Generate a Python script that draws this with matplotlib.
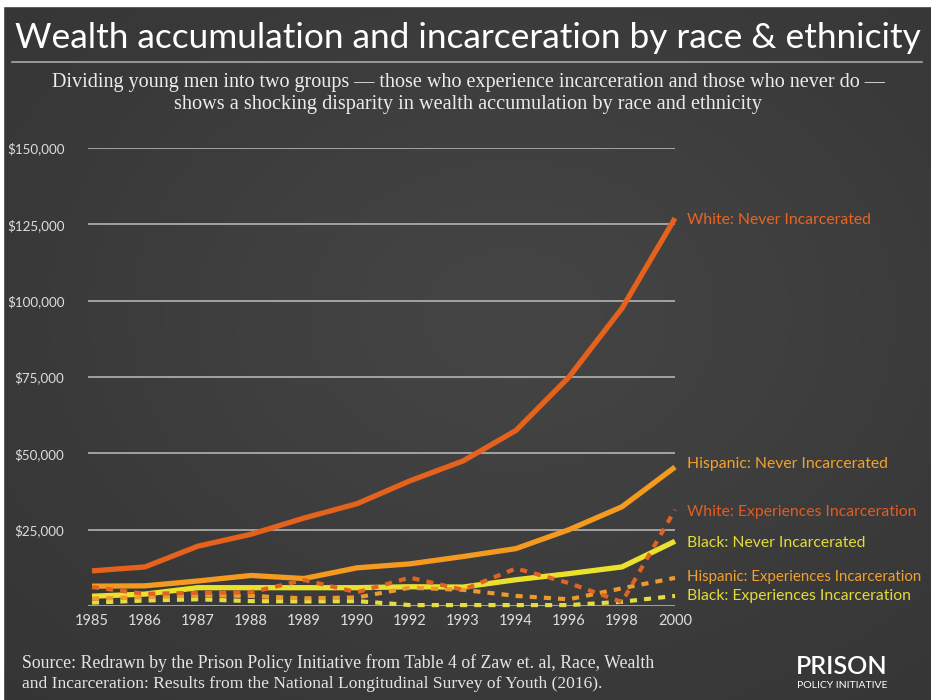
import numpy as np
import matplotlib
matplotlib.use("Agg")
import matplotlib.pyplot as plt
from matplotlib.ticker import FuncFormatter

# data (values in dollars)
years = ['1985', '1986', '1987', '1988', '1989', '1990',
         '1992', '1993', '1994', '1996', '1998', '2000']
white_never = [11500, 12800, 19600, 23500, 28800, 33500,
               41000, 47500, 57500, 75000, 97500, 127000]
hisp_never = [6500, 6600, 8200, 10000, 9000, 12500,
              13800, 16200, 18800, 25000, 32500, 45500]
black_never = [3200, 3900, 6000, 6000, 6000, 6000,
               6300, 6200, 8600, 10600, 12800, 21200]
white_exp = [6200, 4000, 4300, 4500, 8500, 4500,
             9300, 5300, 12300, 7500, 1300, 31500]
hisp_exp = [2400, 2900, 3500, 3300, 2500, 2800,
            6000, 5300, 3300, 2200, 5800, 9200]
black_exp = [1100, 1800, 2200, 1600, 1500, 1600,
             300, 300, 300, 300, 1400, 3300]
yticks = [25000, 50000, 75000, 100000, 125000, 150000]

label_white_never = "White: Never Incarcerated"
label_hisp_never = "Hispanic: Never Incarcerated"
label_white_exp = "White: Experiences Incarceration"
label_black_never = "Black: Never Incarcerated"
label_hisp_exp = "Hispanic: Experiences Incarceration"
label_black_exp = "Black: Experiences Incarceration"

BG = '#3d3d3d'
WHITE_C = '#e4621c'
HISP_C = '#f49a1e'
BLACK_C = '#ebe12c'
SANS = ['Lato', 'DejaVu Sans']
SERIF = ['Liberation Serif', 'DejaVu Serif']

W, H = 931, 700
fig = plt.figure(figsize=(W / 100, H / 100), dpi=100, facecolor=BG)

# subtle vignette background (darker towards the edges)
bg_ax = fig.add_axes([0, 0, 1, 1], zorder=-10)
yy, xx = np.mgrid[0:H, 0:W]
d2 = ((xx - W * 0.55) / W) ** 2 + ((yy - H * 0.45) / H) ** 2
shade = 0.205 + 0.06 * np.exp(-d2 / 0.25)
bg_ax.imshow(np.dstack([shade] * 3), extent=[0, W, H, 0], aspect='auto',
             interpolation='bilinear')
# thin white border strip at the top and left
bg_ax.axhspan(0, 6, color='white')
bg_ax.axvspan(0, 3, color='white')
bg_ax.set_xlim(0, W)
bg_ax.set_ylim(H, 0)
bg_ax.axis('off')
# line under the title
bg_ax.plot([12, 922], [62, 62], color='#a8a8a8', lw=1.2)

renderer = fig.canvas.get_renderer()


def fit_text(x, y, s, target_w, size, **kw):
    # place text and scale its size so it spans target_w pixels
    t = fig.text(x / W, 1 - y / H, s, fontsize=size, **kw)
    w = t.get_window_extent(renderer).width
    t.set_fontsize(size * target_w / w)
    return t


fit_text(468, 38, "Wealth accumulation and incarceration by race & ethnicity",
         905, 24, color='white', ha='center', va='center', family=SANS)
fit_text(468, 82, "Dividing young men into two groups \u2014 those who experience "
         "incarceration and those who never do \u2014", 836, 14,
         color='#ececec', ha='center', va='center', family=SERIF)
fit_text(468, 104, "shows a shocking disparity in wealth accumulation by race and ethnicity",
         592, 14, color='#ececec', ha='center', va='center', family=SERIF)
fit_text(22, 663, "Source: Redrawn by the Prison Policy Initiative from Table 4 of Zaw et. al, Race, Wealth",
         630, 11, color='#e4e4e4', ha='left', va='center', family=SERIF)
fit_text(22, 684, "and Incarceration: Results from the National Longitudinal Survey of Youth (2016).",
         580, 11, color='#e4e4e4', ha='left', va='center', family=SERIF)
fit_text(842, 666, "PRISON", 92, 17, color='white', ha='center', va='center',
         family=SANS, fontweight='semibold')
fit_text(842, 686, "POLICY INITIATIVE", 90, 6, color='white', ha='center',
         va='center', family=SANS)

# main axes: x 1985 at px 92, 2000 at px 675; y 0 at px 606, 150k at px 148
x0, x1 = 92, 675
step = (x1 - x0) / (len(years) - 1)
left_px = 88
ax = fig.add_axes([left_px / W, 1 - 606 / H, (x1 - left_px) / W, (606 - 148) / H])
ax.set_facecolor('none')
ax.set_xlim(-(x0 - left_px) / step, len(years) - 1)
ax.set_ylim(0, 150000)
x = np.arange(len(years))

for yv in [0] + yticks:
    ax.axhline(yv, color='#bdbdbd', lw=1.1, zorder=1)

solid_kw = dict(lw=3.8, solid_capstyle='butt', solid_joinstyle='round', clip_on=False, zorder=3)
ax.plot(x, white_never, color=WHITE_C, **solid_kw)
ax.plot(x, hisp_never, color=HISP_C, **solid_kw)
ax.plot(x, black_never, color=BLACK_C, **solid_kw)

dash_kw = dict(lw=3.0, dashes=(1.7, 1.7), dash_capstyle='butt', clip_on=False, zorder=4)
ax.plot(x, black_exp, color='#e4dc45', **dash_kw)
ax.plot(x, hisp_exp, color='#ec9a2e', **dash_kw)
ax.plot(x, white_exp, color='#de6424', **dash_kw)

ax.set_yticks(yticks)
ax.yaxis.set_major_formatter(FuncFormatter(lambda v, p: f"${v:,.0f}"))
ax.set_xticks(x)
ax.set_xticklabels(years)
ax.tick_params(length=0, colors='#dedede')
for lab in ax.get_yticklabels():
    lab.set_family(SANS)
    lab.set_fontsize(9.6)
for lab in ax.get_xticklabels():
    lab.set_family(SANS)
    lab.set_fontsize(10.5)
ax.tick_params(axis='y', pad=17)
ax.tick_params(axis='x', pad=6)
for sp in ax.spines.values():
    sp.set_visible(False)

# direct labels at the right end of each series
lab_x = len(years) - 1 + 12 / step
lab_kw = dict(fontsize=11.3, va='center', ha='left', family=SANS, clip_on=False)
ax.text(lab_x, 126500, label_white_never, color='#ea6420', **lab_kw)
ax.text(lab_x, 46500, label_hisp_never, color='#f2a22e', **lab_kw)
ax.text(lab_x, 30800, label_white_exp, color='#e35c22', **lab_kw)
ax.text(lab_x, 20700, label_black_never, color='#e2dc3a', **lab_kw)
lab_kw['fontsize'] = 10.8
ax.text(lab_x, 9500, label_hisp_exp, color='#f0a02e', **lab_kw)
lab_kw['fontsize'] = 11.3
ax.text(lab_x, 3300, label_black_exp, color='#e2dc3a', **lab_kw)

fig.savefig("out.png", dpi=100, facecolor=BG)
